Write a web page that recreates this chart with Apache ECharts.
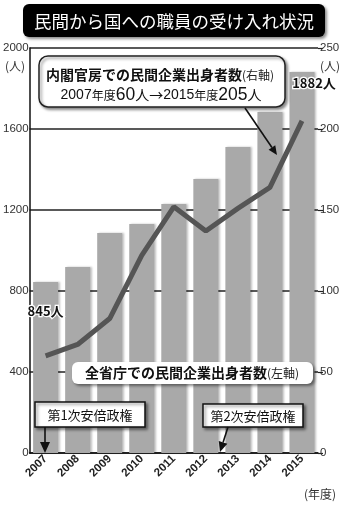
<!DOCTYPE html>
<html><head><meta charset="utf-8">
<script src="https://cdn.jsdelivr.net/npm/echarts@6/dist/echarts.min.js"></script>
<style>html,body{margin:0;padding:0;background:#fff}#c{width:350px;height:506px}</style>
</head><body><div id="c"></div>
<script>
const years = ['2007','2008','2009','2010','2011','2012','2013','2014','2015'];
const allMinistries = [845, 918, 1086, 1131, 1230, 1353, 1511, 1684, 1882];
const cabinetSecretariat = [60, 67, 83, 122, 152, 137, 151, 164, 205];
const leftTicks = [0, 400, 800, 1200, 1600, 2000];
const rightTicks = [0, 50, 100, 150, 200, 250];

const JP = '"Noto Sans CJK JP", sans-serif';
const NUM = '"Liberation Sans", Arial, sans-serif';
const chart = echarts.init(document.getElementById('c'), null, {renderer: 'canvas'});

const shadow = {shadowBlur: 3, shadowOffsetX: 2, shadowOffsetY: 2, shadowColor: 'rgba(0,0,0,0.45)'};
function arrow(x1, y1, x2, y2, len, half) {
  const dx = x2 - x1, dy = y2 - y1, L = Math.hypot(dx, dy);
  const ux = dx / L, uy = dy / L;
  const bx = x2 - ux * len, by = y2 - uy * len;
  return [
    {type: 'line', shape: {x1: x1, y1: y1, x2: bx, y2: by}, style: {stroke: '#111', lineWidth: 1.6}, z: 100},
    {type: 'polygon', shape: {points: [[x2, y2], [bx - uy * half, by + ux * half], [bx + uy * half, by - ux * half]]}, style: {fill: '#111'}, z: 100}
  ];
}

chart.setOption({
  animation: false,
  backgroundColor: '#fff',
  grid: {left: 29, right: 32, top: 48, bottom: 53},
  xAxis: {
    type: 'category', data: years,
    axisLine: {lineStyle: {color: '#111', width: 1.5}},
    axisTick: {show: false},
    axisLabel: {rotate: 45, margin: 4, color: '#222', fontFamily: NUM, fontSize: 11.5, fontWeight: 'bold'}
  },
  yAxis: [{
    type: 'value', min: 0, max: 2000, interval: 400,
    axisLine: {show: true, lineStyle: {color: '#111', width: 1.5}},
    axisTick: {show: false},
    axisLabel: {margin: 1, color: '#333', fontFamily: NUM, fontSize: 11.5, formatter: v => leftTicks.includes(v) ? String(v) : ''},
    splitLine: {show: true, lineStyle: {color: '#222', width: 1.5}}
  }, {
    type: 'value', min: 0, max: 250, interval: 50, position: 'right',
    axisLine: {show: true, lineStyle: {color: 'rgba(0,0,0,0)'}},
    axisTick: {show: true, length: 5, inside: false, lineStyle: {color: '#222', width: 1.2}},
    axisLabel: {margin: 2, color: '#333', fontFamily: NUM, fontSize: 11.5, formatter: v => rightTicks.includes(v) ? String(v) : ''},
    splitLine: {show: false}
  }],
  series: [{
    type: 'bar', data: allMinistries, barWidth: 25, yAxisIndex: 0,
    itemStyle: {color: '#a9a9a9', shadowBlur: 2, shadowOffsetX: 2, shadowOffsetY: 0, shadowColor: 'rgba(0,0,0,0.25)'},
    label: {
      show: true, position: 'insideTop',
      formatter: p => (p.dataIndex === 0 || p.dataIndex === allMinistries.length - 1) ? p.value + '人' : '',
      fontFamily: JP, fontSize: 13, fontWeight: 'bold', color: '#111',
      textBorderColor: '#fff', textBorderWidth: 2.5
    },
    labelLayout: p => p.dataIndex === 0 ? {dy: 18} : {dx: 12, dy: 0},
    z: 2
  }, {
    type: 'line', data: cabinetSecretariat, yAxisIndex: 1,
    symbol: 'none', lineStyle: {color: '#555', width: 5}, z: 5
  }],
  graphic: [
    // title
    {type: 'rect', shape: {x: 23, y: 4, width: 302, height: 33, r: 6}, style: Object.assign({fill: '#000'}, shadow), z: 50},
    {type: 'text', x: 174, y: 21, style: {text: '民間から国への職員の受け入れ状況', fill: '#fff', font: '17.5px ' + JP, align: 'center', verticalAlign: 'middle'}, z: 51},
    // unit labels
    {type: 'text', x: 15, y: 66, style: {text: '(人)', fill: '#333', font: '12px ' + JP, align: 'center', verticalAlign: 'middle'}, z: 20},
    {type: 'text', x: 330, y: 66, style: {text: '(人)', fill: '#333', font: '12px ' + JP, align: 'center', verticalAlign: 'middle'}, z: 20},
    {type: 'text', x: 320, y: 494, style: {text: '(年度)', fill: '#333', font: '12px ' + JP, align: 'center', verticalAlign: 'middle'}, z: 20},
    // box 1
    {type: 'rect', shape: {x: 39, y: 56, width: 246, height: 51, r: 9}, style: Object.assign({fill: '#fff', stroke: '#222', lineWidth: 1.5}, shadow), z: 60},
    {type: 'text', x: 160, y: 75, style: {
      text: '{b|内閣官房での民間企業出身者数}{s|(右軸)}',
      align: 'center', verticalAlign: 'middle',
      rich: {b: {font: 'bold 14px ' + JP, fill: '#111'}, s: {font: '12px ' + JP, fill: '#222'}}
    }, z: 61},
    {type: 'text', x: 161, y: 95, style: {
      text: '{n|2007}{y|年度}{l|60}{p|人→}{n|2015}{y|年度}{l|205}{p|人}',
      align: 'center', verticalAlign: 'middle',
      rich: {
        n: {font: '14px ' + NUM, fill: '#111'},
        y: {font: '12px ' + JP, fill: '#111'},
        l: {font: '17.5px ' + NUM, fill: '#111'},
        p: {font: '14px ' + JP, fill: '#111'}
      }
    }, z: 61},
    ...arrow(245, 108, 277, 155, 9, 4),
    // box 2
    {type: 'rect', shape: {x: 72, y: 362, width: 241, height: 22, r: 6}, style: Object.assign({fill: '#fff'}, shadow), z: 60},
    {type: 'text', x: 192, y: 373, style: {
      text: '{b|全省庁での民間企業出身者数}{s|(左軸)}',
      align: 'center', verticalAlign: 'middle',
      rich: {b: {font: 'bold 14px ' + JP, fill: '#111'}, s: {font: '12px ' + JP, fill: '#222'}}
    }, z: 61},
    // box 3
    {type: 'rect', shape: {x: 35, y: 402, width: 110, height: 25}, style: Object.assign({fill: '#fff', stroke: '#111', lineWidth: 1.5}, shadow), z: 60},
    {type: 'text', x: 90, y: 415, style: {text: '第1次安倍政権', fill: '#111', font: '13px ' + JP, align: 'center', verticalAlign: 'middle'}, z: 61},
    ...arrow(45, 427, 45, 453, 11, 5),
    // box 4
    {type: 'rect', shape: {x: 203, y: 404, width: 100, height: 23}, style: Object.assign({fill: '#fff', stroke: '#111', lineWidth: 1.5}, shadow), z: 60},
    {type: 'text', x: 253, y: 416, style: {text: '第2次安倍政権', fill: '#111', font: '13px ' + JP, align: 'center', verticalAlign: 'middle'}, z: 61},
    ...arrow(228, 427, 220, 452, 10, 4.5)
  ]
});
</script>
</body></html>
